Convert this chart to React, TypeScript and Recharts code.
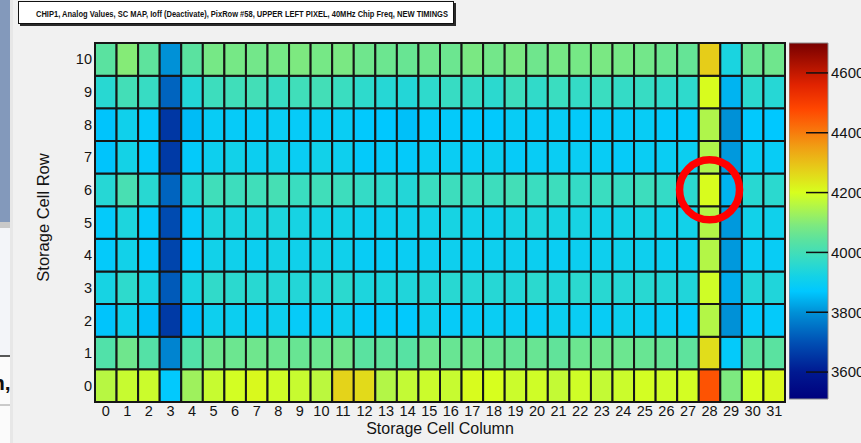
import React from 'react';
import { ComposedChart, XAxis, YAxis, ReferenceArea, ReferenceDot, Label } from 'recharts';

// Storage cell columns (x) and rows (y)
const columns = [0, 1, 2, 3, 4, 5, 6, 7, 8, 9, 10, 11, 12, 13, 14, 15, 16, 17, 18, 19, 20, 21, 22, 23, 24, 25, 26, 27, 28, 29, 30, 31];
const rows = [0, 1, 2, 3, 4, 5, 6, 7, 8, 9, 10];

// Analog values per storage cell, one array per row (column 0 .. 31)
const row10 = [4040, 4100, 4045, 3800, 4040, 4080, 4080, 4075, 4080, 4090, 4080, 4085, 4070, 4065, 4060, 4070, 4065, 4085, 4075, 4085, 4070, 4080, 4080, 4085, 4080, 4075, 4065, 4055, 4280, 3930, 4060, 4070];
const row9 = [3955, 4000, 3980, 3730, 3945, 3990, 3995, 4000, 3980, 3995, 4000, 3985, 3965, 3950, 3945, 3965, 3980, 3975, 3960, 3990, 3970, 3985, 3975, 3985, 3975, 3980, 3970, 3965, 4205, 3845, 3960, 3950];
const row8 = [3865, 3910, 3880, 3655, 3855, 3890, 3885, 3885, 3895, 3885, 3890, 3895, 3875, 3870, 3860, 3880, 3880, 3878, 3875, 3890, 3885, 3890, 3880, 3885, 3885, 3890, 3880, 3880, 4150, 3800, 3875, 3870];
const row7 = [3865, 3920, 3880, 3660, 3880, 3905, 3915, 3900, 3910, 3895, 3915, 3905, 3880, 3885, 3880, 3895, 3895, 3890, 3900, 3885, 3890, 3895, 3895, 3890, 3885, 3895, 3895, 3900, 4150, 3810, 3895, 3890];
const row6 = [3950, 4010, 3955, 3730, 3955, 3995, 3990, 3995, 4005, 3985, 3995, 3990, 3975, 3965, 3945, 3985, 3990, 3990, 3990, 4000, 3985, 3990, 3975, 3985, 3980, 3990, 3975, 3960, 4205, 3845, 3955, 3960];
const row5 = [3880, 3935, 3880, 3690, 3885, 3935, 3930, 3930, 3935, 3925, 3920, 3920, 3905, 3905, 3910, 3915, 3925, 3915, 3910, 3925, 3935, 3925, 3925, 3915, 3920, 3925, 3910, 3915, 4155, 3810, 3915, 3910];
const row4 = [3880, 3915, 3880, 3680, 3878, 3915, 3910, 3900, 3920, 3910, 3920, 3910, 3890, 3890, 3895, 3900, 3905, 3900, 3905, 3905, 3900, 3895, 3900, 3905, 3910, 3905, 3900, 3900, 4155, 3810, 3895, 3890];
const row3 = [3925, 3965, 3925, 3715, 3930, 3970, 3960, 3955, 3950, 3945, 3950, 3960, 3935, 3935, 3940, 3945, 3955, 3950, 3950, 3945, 3960, 3945, 3960, 3955, 3950, 3955, 3945, 3940, 4190, 3835, 3945, 3940];
const row2 = [3865, 3910, 3860, 3660, 3860, 3905, 3900, 3890, 3905, 3885, 3890, 3905, 3880, 3880, 3875, 3905, 3885, 3890, 3895, 3890, 3885, 3900, 3895, 3890, 3905, 3895, 3890, 3880, 4155, 3800, 3880, 3880];
const row1 = [4025, 4070, 4030, 3780, 4025, 4065, 4065, 4070, 4065, 4060, 4065, 4070, 4040, 4045, 4035, 4065, 4060, 4065, 4060, 4055, 4060, 4050, 4065, 4070, 4065, 4060, 4055, 4045, 4255, 3880, 4040, 4040];
const row0 = [4160, 4180, 4185, 3875, 4130, 4180, 4195, 4210, 4190, 4180, 4165, 4270, 4260, 4155, 4175, 4185, 4180, 4205, 4200, 4185, 4190, 4175, 4190, 4175, 4185, 4195, 4190, 4195, 4460, 4090, 4200, 4210];

const rowValues = [row0, row1, row2, row3, row4, row5, row6, row7, row8, row9, row10];

// Colour scale (z axis)
const zMin = 3510;
const zMax = 4700;
const zTicks = [3600, 3800, 4000, 4200, 4400, 4600];
const paletteValues = [3510, 3600, 3700, 3800, 3870, 3920, 3980, 4040, 4090, 4150, 4200, 4280, 4350, 4420, 4480, 4560, 4700];
const paletteColors: [number, number, number][] = [
  [0, 0, 125], [0, 25, 145], [0, 80, 180], [0, 145, 215], [0, 200, 255], [20, 210, 230],
  [55, 220, 195], [90, 226, 160], [125, 233, 128], [175, 245, 75], [215, 255, 30],
  [230, 205, 25], [240, 160, 20], [250, 110, 10], [255, 70, 0], [225, 35, 0], [120, 0, 0],
];

// Highlighted cell
const markedCell = { col: 28, row: 6 };

const title = 'CHIP1, Analog Values, SC MAP, Ioff (Deactivate), PixRow #58, UPPER LEFT PIXEL, 40MHz Chip Freq, NEW TIMINGS';

const FONT = '"Liberation Sans", Arial, Helvetica, sans-serif';

const rgb = (c: [number, number, number]) => `rgb(${Math.round(c[0])},${Math.round(c[1])},${Math.round(c[2])})`;

function colorFor(v: number): string {
  if (v <= paletteValues[0]) return rgb(paletteColors[0]);
  for (let i = 1; i < paletteValues.length; i++) {
    if (v <= paletteValues[i]) {
      const t = (v - paletteValues[i - 1]) / (paletteValues[i] - paletteValues[i - 1]);
      const a = paletteColors[i - 1];
      const b = paletteColors[i];
      return rgb([a[0] + (b[0] - a[0]) * t, a[1] + (b[1] - a[1]) * t, a[2] + (b[2] - a[2]) * t]);
    }
  }
  return rgb(paletteColors[paletteColors.length - 1]);
}

const cells = rowValues.flatMap((vals, r) =>
  vals.map((value, c) => ({ col: columns[c], row: rows[r], value }))
);

// one entry per palette stop, used as data for the colour-bar chart
const paletteData = paletteValues.map((v) => ({ x: 0.5, z: v }));

const tickStyle = { fontSize: 14.5, fill: '#141414', fontFamily: FONT };

const XTitle = (props: any) => {
  const vb = props.viewBox;
  return (
    <text x={vb.x + vb.width / 2} y={vb.y + 31.5} textAnchor="middle" fontSize={16} fontFamily={FONT} fill="#141414">
      Storage Cell Column
    </text>
  );
};

const YTitle = (props: any) => {
  const vb = props.viewBox;
  const cx = vb.x + 8.5;
  const cy = vb.y + vb.height / 2 - 5;
  return (
    <text x={cx} y={cy} dy="0.355em" transform={`rotate(-90 ${cx} ${cy})`} textAnchor="middle" fontSize={16.5} fontFamily={FONT} fill="#141414">
      Storage Cell Row
    </text>
  );
};

const ZTick = (props: any) => {
  const { x, y, payload } = props;
  return (
    <g>
      <line x1={x - 25} x2={x - 3} y1={y} y2={y} stroke="#111" strokeWidth={1.5} />
      <text x={x} y={y} dy="0.355em" textAnchor="start" fontSize={15} fontFamily={FONT} fill="#141414">
        {payload.value}
      </text>
    </g>
  );
};

export default function App() {
  return (
    <div style={{ position: 'absolute', left: 0, top: 0, width: 861, height: 443, background: '#f1f1f1', overflow: 'hidden' }}>
      <svg width={861} height={443} style={{ position: 'absolute', left: 0, top: 0 }}>
        {/* neighbouring slide edge */}
        <rect x={0} y={0} width={10} height={222} fill="#8399bb" />
        <rect x={0} y={222} width={10} height={6} fill="#c9c9c9" />
        <rect x={0} y={228} width={10} height={128} fill="#f3f5f9" />
        <rect x={0} y={356} width={10} height={87} fill="#fbfbfb" />
        <line x1={0} x2={10} y1={356} y2={356} stroke="#222" strokeWidth={1.5} />
        <line x1={0} x2={10} y1={405} y2={405} stroke="#9a9a9a" strokeWidth={1} />
        <text x={-8} y={390} fontSize={21} fontWeight="bold" fontFamily={FONT} fill="#111">n,</text>
        <rect x={10} y={0} width={3} height={443} fill="#e7e7e7" />
        {/* title box */}
        <rect x={20} y={3} width={436} height={23} fill="#2a2a2a" />
        <rect x={18.5} y={1.5} width={435} height={22} fill="#ffffff" stroke="#111" strokeWidth={1} />
        <text x={36} y={17} fontSize={9.5} fontWeight="bold" fontFamily={FONT} fill="#111" textLength={412} lengthAdjust="spacingAndGlyphs">
          {title}
        </text>
      </svg>

      <div style={{ position: 'absolute', left: 0, top: 0 }}>
        <ComposedChart width={861} height={443} data={cells} margin={{ top: 43, right: 76, bottom: 0, left: 35 }}>
          <XAxis
            type="number"
            dataKey="col"
            domain={[-0.5, 31.5]}
            ticks={columns}
            interval={0}
            allowDataOverflow
            tickLine={false}
            axisLine={false}
            tickSize={0}
            tickMargin={3.5}
            height={41}
            tick={tickStyle}
          >
            <Label content={XTitle} />
          </XAxis>
          <YAxis
            type="number"
            dataKey="row"
            domain={[-0.5, 10.5]}
            ticks={rows}
            interval={0}
            allowDataOverflow
            tickLine={false}
            axisLine={false}
            tickSize={0}
            tickMargin={3}
            width={60}
            tick={tickStyle}
          >
            <Label content={YTitle} />
          </YAxis>
          {cells.map((c) => (
            <ReferenceArea
              key={`${c.col}-${c.row}`}
              x1={c.col - 0.5}
              x2={c.col + 0.5}
              y1={c.row - 0.5}
              y2={c.row + 0.5}
              fill={colorFor(c.value)}
              fillOpacity={1}
              stroke="#161616"
              strokeWidth={2}
              ifOverflow="visible"
            />
          ))}
          <ReferenceDot
            x={markedCell.col}
            y={markedCell.row}
            r={30}
            fill="none"
            stroke="#ff0000"
            strokeWidth={7.5}
            ifOverflow="visible"
          />
        </ComposedChart>
      </div>

      <div style={{ position: 'absolute', left: 789, top: 0 }}>
        <ComposedChart width={72} height={443} data={paletteData} margin={{ top: 43, right: 0, bottom: 44, left: 0 }}>
          <defs>
            <linearGradient id="zPalette" x1="0" y1="1" x2="0" y2="0">
              {paletteValues.map((v, i) => (
                <stop key={v} offset={(v - zMin) / (zMax - zMin)} stopColor={rgb(paletteColors[i])} />
              ))}
            </linearGradient>
          </defs>
          <XAxis type="number" dataKey="x" domain={[0, 1]} hide />
          <YAxis
            type="number"
            dataKey="z"
            orientation="right"
            domain={[zMin, zMax]}
            ticks={zTicks}
            interval={0}
            allowDataOverflow
            tickLine={false}
            axisLine={false}
            tickSize={0}
            tickMargin={3}
            width={33}
            tick={ZTick}
          />
          <ReferenceArea x1={0} x2={1} y1={zMin} y2={zMax} fill="url(#zPalette)" fillOpacity={1} stroke="#8c8c8c" strokeWidth={1} ifOverflow="visible" />
        </ComposedChart>
      </div>
    </div>
  );
}
